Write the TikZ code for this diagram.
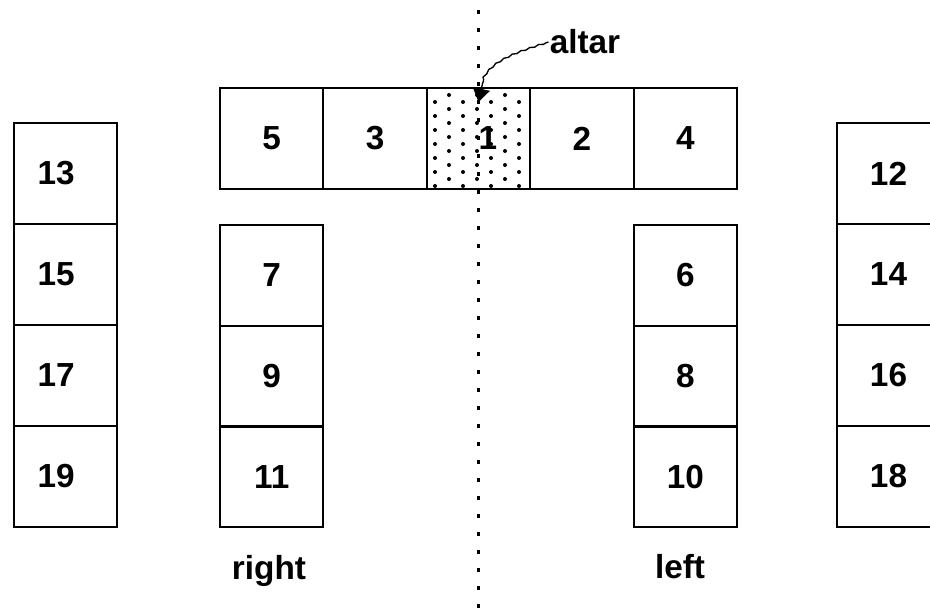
\documentclass[tikz,border=0pt]{standalone}
\usepackage{fontspec}
\setmainfont{Liberation Sans}
\usetikzlibrary{decorations.pathmorphing,arrows.meta}

\begin{document}
\begin{tikzpicture}[x=0.75pt,y=0.75pt,yscale=-1,xscale=1,
	seat/.style={draw, line width=1.5pt, minimum width=77.5pt, minimum height=75.75pt, inner sep=0pt, font=\fontsize{25}{29}\selectfont\bfseries},
	lbl/.style={inner sep=0.75pt, font=\fontsize{25}{29}\selectfont\bfseries}]
			\useasboundingbox (0,0) rectangle (930,608);
			% front row
			\node [seat] (c5) at (271.7,138.5) {5};
			\node [seat] (c3) at (375.1,138.5) {3};
			\node [seat] (c1) at (478.5,138.5) {\kern14pt 1};
			\node [seat] (c2) at (581.9,138.5) {2};
			\node [seat] (c4) at (685.3,138.5) {4};
			% dots in the altar seat
			\begin{scope}
				\clip (c1.south west) rectangle (c1.north east);
				\foreach \i in {0,...,6}
					\foreach \j in {0,...,6}
						\fill ({435+14*\i}, {102-7*mod(\i,2)+14*\j}) circle (2);
			\end{scope}
			% inner columns
			\node [seat] (c7) at (271.7,275.3) {7};
			\node [seat] (c9) at (271.7,376) {9};
			\node [seat] (c11) at (271.7,476.7) {11};
			\node [seat] (c6) at (685.3,275.3) {6};
			\node [seat] (c8) at (685.3,376) {8};
			\node [seat] (c10) at (685.3,476.7) {10};
			% outer columns
			\node [seat] (c13) at (65.5,173.5) {13\kern14pt};
			\node [seat] (c15) at (65.5,274.5) {15\kern14pt};
			\node [seat] (c17) at (65.5,375.5) {17\kern14pt};
			\node [seat] (c19) at (65.5,476.5) {19\kern14pt};
			\node [seat] (c12) at (888.5,173.5) {12};
			\node [seat] (c14) at (888.5,274.5) {14};
			\node [seat] (c16) at (888.5,375.5) {16};
			\node [seat] (c18) at (888.5,476.5) {18};
			% aisle
			\coordinate (aisletop) at (478.5,10);
			\coordinate (aislebot) at (478.5,608);
			\draw [line width=2pt, dash pattern=on 3pt off 10.5pt] (aisletop) -- (aislebot);
			% labels
			\node [lbl] (altar) at (585,42) {altar};
			\node [lbl] (rightside) at (269,571) {right};
			\node [lbl] (leftside) at (680,567) {left};
			\coordinate (tip) at (478.5,102);
			\draw [line width=1pt, decorate, decoration={snake, amplitude=0.5pt, segment length=7pt, pre length=2pt, post length=14pt}, -{Triangle[length=10pt,width=13pt]}] (altar.west) .. controls (505,56) and (482,64) .. (tip);
\end{tikzpicture}
\end{document}
